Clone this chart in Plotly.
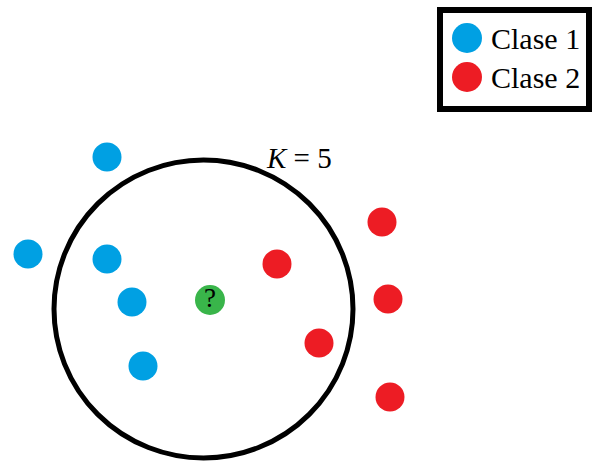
import plotly.graph_objects as go

# Data (pixel-space feature coordinates)
class1_x = [107, 28, 107, 132, 143]
class1_y = [157, 254, 259, 302, 366]
class2_x = [382, 277, 388, 319, 390]
class2_y = [222, 264, 299, 343, 397]
query_x = [210]
query_y = [300]
query_label = ["?"]
legend_labels = ["Clase 1", "Clase 2"]
k_label = "<i>K</i> = 5"

BLUE = "#00A0E3"
RED = "#ED1C24"
GREEN = "#39B54A"
FONT = "Liberation Serif, Times New Roman, serif"

fig = go.Figure()

# neighbourhood circle
fig.add_shape(type="circle", xref="x", yref="y", x0=54, x1=353, y0=160, y1=458,
              line=dict(color="black", width=5), layer="below")

fig.add_trace(go.Scatter(x=class1_x, y=class1_y, mode="markers",
                         marker=dict(size=29, color=BLUE, line=dict(width=0)),
                         showlegend=False, hoverinfo="skip"))
fig.add_trace(go.Scatter(x=class2_x, y=class2_y, mode="markers",
                         marker=dict(size=29, color=RED, line=dict(width=0)),
                         showlegend=False, hoverinfo="skip"))
fig.add_trace(go.Scatter(x=query_x, y=query_y, mode="markers+text",
                         text=query_label, textposition="middle center",
                         textfont=dict(family=FONT, size=27, color="black"),
                         marker=dict(size=30, color=GREEN, line=dict(width=0)),
                         showlegend=False, hoverinfo="skip"))

# manual legend
fig.add_shape(type="rect", xref="x", yref="y", x0=440, x1=589, y0=10, y1=109,
              line=dict(color="black", width=6), fillcolor="white", layer="below")
legend_y = [38, 77]
legend_colors = [BLUE, RED]
fig.add_trace(go.Scatter(x=[467, 467], y=legend_y, mode="markers",
                         marker=dict(size=30, color=legend_colors, line=dict(width=0)),
                         showlegend=False, hoverinfo="skip"))
for lbl, yy in zip(legend_labels, legend_y):
    fig.add_annotation(x=489, y=yy, xref="x", yref="y", text=lbl, showarrow=False,
                       xanchor="left", yanchor="middle",
                       font=dict(family=FONT, size=30, color="black"))

fig.add_annotation(x=264, y=158, xref="x", yref="y", text=k_label, showarrow=False,
                   xanchor="left", yanchor="middle",
                   font=dict(family=FONT, size=29, color="black"))

fig.update_layout(
    width=593, height=462,
    margin=dict(l=0, r=0, t=0, b=0),
    paper_bgcolor="white", plot_bgcolor="white",
    xaxis=dict(range=[0, 593], visible=False, fixedrange=True),
    yaxis=dict(range=[462, 0], visible=False, fixedrange=True),
    showlegend=False,
)

fig.write_html("out.html", config={"displayModeBar": False},
               post_script="document.body.style.margin='0';document.body.style.overflow='hidden';")
